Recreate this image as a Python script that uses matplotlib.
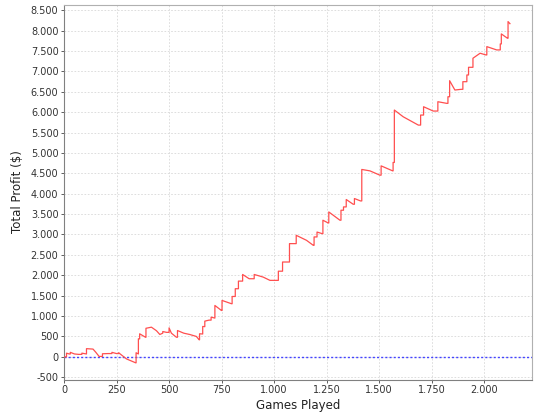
import matplotlib
matplotlib.use("Agg")
import matplotlib.pyplot as plt
from matplotlib.ticker import FuncFormatter, MultipleLocator

games = [0, 12, 12, 25, 30, 30, 50, 70, 85, 85, 105, 107, 107, 138, 150, 167, 183, 183,
         210, 228, 228, 250, 260, 260, 297, 341, 343, 343, 354, 354, 360, 360, 388, 390,
         390, 416, 440, 456, 470, 470, 488, 500, 500, 511, 535, 540, 540, 570, 598, 630,
         643, 645, 645, 660, 660, 670, 670, 690, 700, 700, 718, 718, 749, 752, 752, 797,
         800, 800, 815, 815, 830, 830, 850, 850, 881, 905, 905, 948, 980, 1020, 1020,
         1040, 1040, 1073, 1073, 1105, 1105, 1154, 1186, 1190, 1190, 1204, 1204, 1229,
         1232, 1232, 1257, 1260, 1260, 1313, 1318, 1318, 1330, 1330, 1343, 1343, 1376,
         1382, 1382, 1411, 1417, 1417, 1456, 1503, 1509, 1509, 1564, 1566, 1566, 1572,
         1572, 1614, 1686, 1697, 1697, 1711, 1711, 1757, 1779, 1779, 1821, 1827, 1827,
         1835, 1835, 1860, 1890, 1898, 1898, 1917, 1917, 1925, 1925, 1946, 1946, 1980,
         2008, 2012, 2012, 2059, 2076, 2076, 2081, 2081, 2110, 2113, 2113, 2122]
profit = [0, 0, 90, 70, 70, 110, 70, 60, 60, 90, 70, 70, 200, 190, 120, 10, 10, 75,
          80, 80, 110, 80, 80, 100, -50, -147, -147, 100, 70, 442, 440, 565, 480, 480,
          700, 727, 640, 548, 580, 620, 600, 600, 710, 580, 480, 480, 645, 580, 548, 500,
          418, 418, 565, 560, 745, 740, 875, 900, 900, 973, 950, 1260, 1137, 1137, 1383, 1302,
          1302, 1480, 1480, 1670, 1670, 1857, 1857, 2020, 1915, 1915, 2020, 1955, 1875, 1875, 2100,
          2100, 2325, 2325, 2776, 2776, 2980, 2857, 2735, 2735, 2940, 2940, 3060, 3020,
          3020, 3350, 3283, 3283, 3553, 3350, 3350, 3595, 3595, 3676, 3676, 3858, 3742,
          3742, 3882, 3823, 3823, 4595, 4560, 4455, 4455, 4683, 4560, 4560, 4767, 4767,
          6052, 5887, 5683, 5683, 5929, 5929, 6133, 6027, 6027, 6256, 6216, 6216, 6378,
          6378, 6772, 6543, 6560, 6560, 6747, 6747, 6912, 6912, 7100, 7100, 7322, 7445,
          7403, 7403, 7607, 7526, 7526, 7673, 7673, 7919, 7813, 7813, 8221, 8170]

x_label = "Games Played"
y_label = "Total Profit ($)"

fig = plt.figure(figsize=(5.4, 4.2), dpi=100)
ax = fig.add_axes([64 / 540, 1 - 379.5 / 420, (532 - 64) / 540, (379.5 - 4.5) / 420])
ax.set_facecolor("white")

ax.plot(games, profit, color="#FF4F4F", lw=0.9, zorder=3)
ax.axhline(0, color="#4444FF", lw=1.0, ls=(0, (1.5, 1.5)), zorder=2)

ax.set_xlim(0, 2227)
ax.set_ylim(-556, 8640)
ax.xaxis.set_major_locator(MultipleLocator(250))
ax.yaxis.set_major_locator(MultipleLocator(500))
fmt = FuncFormatter(lambda v, p: f"{int(round(v)):,}".replace(",", "."))
ax.xaxis.set_major_formatter(fmt)
ax.yaxis.set_major_formatter(fmt)

ax.grid(True, color="#D8D8D8", lw=0.6, ls=(0, (2, 2)))
ax.set_axisbelow(True)

for s in ax.spines.values():
    s.set_color("#B0B0B0")
    s.set_linewidth(0.8)
ax.spines["left"].set_color("#808080")
ax.spines["bottom"].set_color("#808080")

ax.tick_params(axis="both", labelsize=7, colors="#444444", length=2, width=0.6, pad=2)
for lbl in ax.get_xticklabels() + ax.get_yticklabels():
    lbl.set_color("#333333")

ax.set_xlabel(x_label, fontsize=8.5, color="#222222", labelpad=3)
ax.set_ylabel(y_label, fontsize=8.5, color="#222222", labelpad=5)

fig.savefig("out.png", dpi=100, facecolor="white")
